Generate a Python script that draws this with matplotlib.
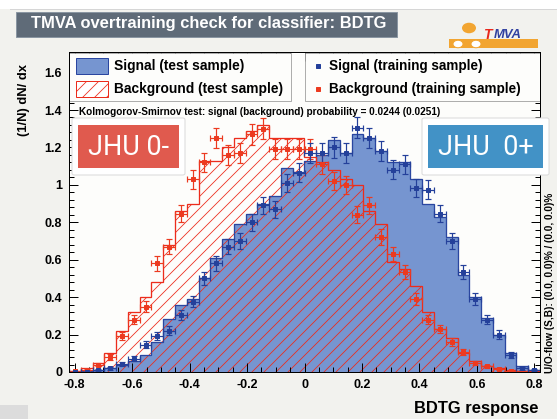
import numpy as np
import matplotlib
matplotlib.use("Agg")
import matplotlib.pyplot as plt
from matplotlib.patches import Rectangle, Circle, FancyBboxPatch
from matplotlib.lines import Line2D
from matplotlib.ticker import MultipleLocator, FuncFormatter

# ---- data: BDTG response distributions (normalised, 40 bins) ----
x_min, x_max, n_bins = -0.82, 0.82, 40

sig_test = [0.0, 0.003, 0.01, 0.02, 0.04, 0.06, 0.09, 0.16, 0.285, 0.36,
            0.39, 0.50, 0.61, 0.71, 0.79, 0.845, 0.90, 0.94, 1.09, 1.07,
            1.13, 1.16, 1.24, 1.17, 1.27, 1.25, 1.18, 1.12, 1.12, 1.03,
            0.90, 0.83, 0.72, 0.52, 0.40, 0.29, 0.20, 0.10, 0.03, 0.01]

bkg_test = [0.005, 0.02, 0.05, 0.10, 0.22, 0.32, 0.40, 0.48, 0.68, 0.86,
            0.90, 1.13, 1.13, 1.20, 1.25, 1.29, 1.32, 1.25, 1.25, 1.25,
            1.15, 1.12, 1.08, 1.03, 1.00, 0.86, 0.79, 0.59, 0.55, 0.46,
            0.32, 0.23, 0.18, 0.10, 0.06, 0.03, 0.02, 0.01, 0.005, 0.003]

sig_train = [0.0, 0.0, 0.01, 0.02, 0.045, 0.07, 0.145, 0.19, 0.22, 0.305,
             0.375, 0.50, 0.58, 0.67, 0.70, 0.80, 0.89, 0.87, 1.01, 1.065,
             1.17, 1.17, 1.20, 1.17, 1.305, 1.25, 1.18, 1.08, 1.11, 0.985,
             0.975, 0.845, 0.70, 0.535, 0.39, 0.28, 0.20, 0.09, 0.02, 0.01]

bkg_train = [0.003, 0.01, 0.04, 0.08, 0.19, 0.28, 0.35, 0.58, 0.67, 0.845,
             1.03, 1.12, 1.25, 1.16, 1.17, 1.27, 1.30, 1.19, 1.19, 1.19,
             1.19, 1.11, 1.02, 1.00, 0.84, 0.89, 0.72, 0.63, 0.535, 0.39,
             0.28, 0.23, 0.16, 0.107, 0.05, 0.03, 0.016, 0.005, 0.003, 0.0]

n_train = 10000          # events per training sample (sets Poisson error bars)
ks_sig, ks_bkg = 0.0244, 0.0251

# ---- styling ----
W, H, DPI = 557, 419, 72
BG = "#f2f2ee"
SIG_FILL = "#7695d0"
SIG_LINE = "#2a46a0"
BKG_LINE = "#ec2c1c"
SIG_PT = "#24409a"
BKG_PT = "#ec3a20"

plt.rcParams["font.family"] = ["Liberation Sans", "DejaVu Sans"]
plt.rcParams["hatch.linewidth"] = 0.8

fig = plt.figure(figsize=(W / DPI, H / DPI), dpi=DPI, facecolor=BG)


def fx(x):
    return x / W


def fy(y):
    return 1 - y / H


def frect(x0, y0, x1, y1, **kw):
    r = Rectangle((fx(x0), fy(y1)), fx(x1) - fx(x0), fy(y0) - fy(y1),
                  transform=fig.transFigure, **kw)
    fig.add_artist(r)
    return r


# slide header strip
frect(0, 0, W, 9, facecolor="white", edgecolor="none", zorder=-2)
fig.add_artist(Line2D([fx(10), 1], [fy(9), fy(9)], transform=fig.transFigure,
                      color="#d6d6d6", lw=1.0, zorder=-1))
frect(0, 405, 28, H, facecolor="#dcdcdc", edgecolor="none", zorder=-1)

# title banner
frect(16, 12, 397, 37, facecolor="#5f6b78", edgecolor="#8a96a2", lw=1, zorder=2)
fig.text(fx(31), fy(23.5), "TMVA overtraining check for classifier: BDTG",
         color="white", fontsize=16.5, fontweight="bold", ha="left",
         va="center", zorder=3)

# logo
fig.add_artist(Circle((fx(469), fy(28)), 7 / W, transform=fig.transFigure,
                      facecolor="#f2a531", edgecolor="none", zorder=2))
frect(449, 39, 538, 48, facecolor="#f2a531", edgecolor="none", zorder=2)
for cx in (458, 476):
    fig.add_artist(Circle((fx(cx), fy(44)), 5 / W, transform=fig.transFigure,
                          facecolor="white", edgecolor="#f2a531", lw=1, zorder=3))
fig.text(fx(484), fy(35), "T", color="#e8281c", fontsize=14, fontweight="bold",
         style="italic", ha="left", va="center", zorder=4)
fig.text(fx(494), fy(35), "MVA", color="#3040a0", fontsize=13, fontweight="bold",
         style="italic", ha="left", va="center", zorder=4)

# ---- main axes ----
ax = fig.add_axes([fx(69), fy(372), fx(540) - fx(69), fy(52) - fy(372)])
ax.set_facecolor("#fdfdfb")
ax.set_xlim(x_min, x_max)
ax.set_ylim(0, 1.71)

edges = np.linspace(x_min, x_max, n_bins + 1)
centers = 0.5 * (edges[:-1] + edges[1:])
width = edges[1] - edges[0]

ax.stairs(sig_test, edges, fill=True, facecolor=SIG_FILL, edgecolor="none",
          zorder=1)
ax.stairs(bkg_test, edges, fill=True, facecolor="none", edgecolor=BKG_LINE,
          hatch="//", lw=0, zorder=1.2)
ax.stairs(sig_test, edges, color=SIG_LINE, lw=1.3, zorder=1.5)
ax.stairs(bkg_test, edges, color=BKG_LINE, lw=1.3, zorder=1.5)

sig_tr = np.array(sig_train)
bkg_tr = np.array(bkg_train)
sig_err = np.sqrt(sig_tr / (n_train * width))
bkg_err = np.sqrt(bkg_tr / (n_train * width))

ax.errorbar(centers, bkg_tr, xerr=width / 2, yerr=bkg_err, fmt="s", ms=4.5,
            color=BKG_PT, elinewidth=1.2, capsize=3, capthick=1.2, zorder=1.8)
ax.errorbar(centers, sig_tr, xerr=width / 2, yerr=sig_err, fmt="s", ms=4.5,
            color=SIG_PT, elinewidth=1.2, capsize=3, capthick=1.2, zorder=1.8)

fmt = FuncFormatter(lambda v, p: "0" if abs(v) < 1e-9 else f"{v:g}")
ax.xaxis.set_major_locator(MultipleLocator(0.2))
ax.xaxis.set_minor_locator(MultipleLocator(0.05))
ax.yaxis.set_major_locator(MultipleLocator(0.2))
ax.yaxis.set_minor_locator(MultipleLocator(0.04))
ax.xaxis.set_major_formatter(fmt)
ax.yaxis.set_major_formatter(fmt)
ax.tick_params(which="both", direction="in", top=True, right=True, width=1,
               color="black")
ax.tick_params(which="major", length=9)
ax.tick_params(which="minor", length=5)
ax.tick_params(axis="x", pad=7, labelsize=12.5)
ax.tick_params(axis="y", pad=7, labelsize=12.5)
for lab in ax.get_xticklabels() + ax.get_yticklabels():
    lab.set_fontweight("bold")
for s in ax.spines.values():
    s.set_linewidth(1.0)


# legends
def leg_box(x0, y0, x1, y1):
    r = Rectangle((fx(x0), fy(y1)), fx(x1) - fx(x0), fy(y0) - fy(y1),
                  transform=fig.transFigure, facecolor="#fdfdfb",
                  edgecolor="#9a9a9a", lw=0.8, zorder=2)
    ax.add_artist(r)


leg_box(69, 53, 291, 101)
leg_box(305, 53, 540, 101)
r = Rectangle((fx(76), fy(74)), fx(108) - fx(76), fy(58) - fy(74),
              transform=fig.transFigure, facecolor=SIG_FILL, edgecolor=SIG_LINE,
              lw=1, zorder=2.1)
ax.add_artist(r)
r = Rectangle((fx(76), fy(97)), fx(108) - fx(76), fy(81) - fy(97),
              transform=fig.transFigure, facecolor="white", edgecolor=BKG_LINE,
              hatch="//", lw=1, zorder=2.1)
ax.add_artist(r)
ax.text(fx(114), fy(66), "Signal (test sample)", transform=fig.transFigure,
        fontsize=13.8, fontweight="bold", ha="left", va="center", zorder=2.2)
ax.text(fx(114), fy(89), "Background (test sample)", transform=fig.transFigure,
        fontsize=13.8, fontweight="bold", ha="left", va="center", zorder=2.2)
ax.add_artist(Line2D([fx(318)], [fy(66)], marker="s", ms=3.5, color=SIG_PT,
                     transform=fig.transFigure, zorder=2.2))
ax.add_artist(Line2D([fx(318)], [fy(89)], marker="s", ms=3.5, color=BKG_PT,
                     transform=fig.transFigure, zorder=2.2))
ax.text(fx(329), fy(66), "Signal (training sample)", transform=fig.transFigure,
        fontsize=13.5, fontweight="bold", ha="left", va="center", zorder=2.2)
ax.text(fx(329), fy(89), "Background (training sample)",
        transform=fig.transFigure, fontsize=13.5, fontweight="bold",
        ha="left", va="center", zorder=2.2)

ax.text(fx(79), fy(112),
        f"Kolmogorov-Smirnov test: signal (background) probability = "
        f"{ks_sig:.4f} ({ks_bkg:.4f})",
        transform=fig.transFigure, fontsize=10, fontweight="bold",
        ha="left", va="center", zorder=2.2)

# axis titles
fig.text(fx(24), fy(100), "(1/N) dN/ dx", rotation=90, fontsize=13,
         fontweight="bold", ha="center", va="center")
fig.text(fx(538), fy(408), "BDTG response", fontsize=16.5, fontweight="bold",
         ha="right", va="center")
fig.text(fx(550), fy(373), "U/O-flow (S,B): (0.0, 0.0)% / (0.0, 0.0)%",
         rotation=90, fontsize=10, fontweight="bold", ha="center",
         va="bottom")


# hypothesis labels
def tag(x0, y0, x1, y1, color, label):
    fig.add_artist(FancyBboxPatch((fx(x0 - 6), fy(y1 + 7)),
                                  fx(x1 + 6) - fx(x0 - 6),
                                  fy(y0 - 7) - fy(y1 + 7),
                                  boxstyle="round,pad=0,rounding_size=0.004",
                                  transform=fig.transFigure, facecolor="white",
                                  edgecolor="#dadada", lw=1, zorder=5))
    frect(x0, y0, x1, y1, facecolor=color, edgecolor="none", zorder=6)
    fig.text(fx((x0 + x1) / 2), fy((y0 + y1) / 2 + 1), label, color="white",
             fontsize=27, fontfamily=["Roboto", "Lato", "DejaVu Sans"],
             fontweight="normal", ha="center", va="center", zorder=7)


tag(78, 125, 179, 168, "#e05a4e", "JHU 0-")
tag(428, 125, 543, 168, "#4292c6", "JHU  0+")

fig.savefig("out.png", dpi=DPI, facecolor=BG)
